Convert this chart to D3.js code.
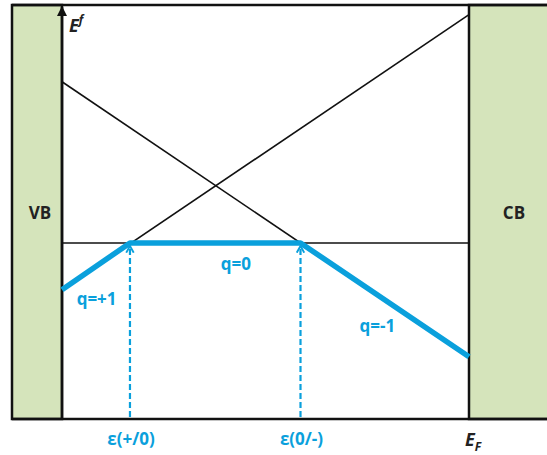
<!DOCTYPE html>
<html lang="en">
<head>
	<meta charset="utf-8">
	<title>Defect formation energy</title>
	<script src="https://d3js.org/d3.v7.min.js"></script>
	<style>
		body { margin: 0; background: #fff; }
		text { font-family: "Open Sans", "DejaVu Sans", sans-serif; font-weight: bold; }
	</style>
</head>
<body>
	<script>
	// Charge states and formation energy at the VBM (arbitrary units)
	var charges = [1, 0, -1];
	var chargeLabels = ["q=+1", "q=0", "q=-1"];
	var energyAtVBM = [-0.17, 0, 0.586];
	// Transition levels (Fermi level where lowest charge state changes)
	var transitionLevels = [0.167, 0.586];
	var transitionLabels = ["ε(+/0)", "ε(0/-)"];
	// Band gap (Fermi level range)
	var gap = [0, 1];

	var w = 547, h = 455;
	var svg = d3.select("body").append("svg")
		.attr("width", w)
		.attr("height", h);

	var x = d3.scaleLinear().domain(gap).range([62, 469]);
	var y = d3.scaleLinear().domain([-0.64, 0.865]).range([419, 5]);

	var blue = "#0aa0dc";
	var green = "#d5e4bb";

	function energy(i, ef) { return energyAtVBM[i] + charges[i] * ef; }

	// VB and CB bands
	svg.append("rect")
		.attr("x", 12).attr("y", y.range()[1])
		.attr("width", x(gap[0]) - 12).attr("height", y.range()[0] - y.range()[1])
		.attr("fill", green).attr("stroke", "#111").attr("stroke-width", 2.5);
	svg.append("rect")
		.attr("x", x(gap[1])).attr("y", y.range()[1])
		.attr("width", w - x(gap[1]) + 5).attr("height", y.range()[0] - y.range()[1])
		.attr("fill", green).attr("stroke", "#111").attr("stroke-width", 2.5);

	// frame top and bottom
	svg.append("line")
		.attr("x1", 12).attr("x2", w).attr("y1", y.range()[1]).attr("y2", y.range()[1])
		.attr("stroke", "#111").attr("stroke-width", 2.5);
	svg.append("line")
		.attr("x1", 12).attr("x2", w).attr("y1", y.range()[0]).attr("y2", y.range()[0])
		.attr("stroke", "#111").attr("stroke-width", 2.5);

	// arrow markers
	var defs = svg.append("defs");
	defs.append("marker")
		.attr("id", "blackArrow").attr("viewBox", "0 0 10 10")
		.attr("refX", 9).attr("refY", 5)
		.attr("markerWidth", 4).attr("markerHeight", 4)
		.attr("orient", "auto")
		.append("path").attr("d", "M0,0L10,5L0,10Z").attr("fill", "#111");
	defs.append("marker")
		.attr("id", "blueArrow").attr("viewBox", "0 0 12 12")
		.attr("refX", 10).attr("refY", 6)
		.attr("markerWidth", 9).attr("markerHeight", 10)
		.attr("markerUnits", "userSpaceOnUse")
		.attr("orient", "auto")
		.append("path").attr("d", "M1,1L10,6L1,11").attr("fill", "none")
		.attr("stroke", blue).attr("stroke-width", 2.5);

	// energy axis
	svg.append("line")
		.attr("x1", x(0)).attr("x2", x(0))
		.attr("y1", y.range()[0]).attr("y2", y.range()[1] + 2)
		.attr("stroke", "#111").attr("stroke-width", 2.5)
		.attr("marker-end", "url(#blackArrow)");

	// full formation energy lines (thin black)
	charges.forEach(function(q, i) {
		svg.append("line")
			.attr("x1", x(gap[0])).attr("y1", y(energy(i, gap[0])))
			.attr("x2", x(gap[1])).attr("y2", y(energy(i, gap[1])))
			.attr("stroke", "#111").attr("stroke-width", 1.6);
	});

	// lowest energy envelope (thick blue)
	var bounds = [gap[0]].concat(transitionLevels, [gap[1]]);
	var envelope = [];
	charges.forEach(function(q, i) {
		envelope.push([bounds[i], energy(i, bounds[i])]);
	});
	envelope.push([gap[1], energy(charges.length - 1, gap[1])]);
	svg.append("path")
		.datum(envelope)
		.attr("d", d3.line().x(function(d) { return x(d[0]); }).y(function(d) { return y(d[1]); }))
		.attr("fill", "none").attr("stroke", blue).attr("stroke-width", 5.5)
		.attr("stroke-linejoin", "round");

	// dashed arrows for transition levels
	transitionLevels.forEach(function(t, i) {
		svg.append("line")
			.attr("x1", x(t)).attr("x2", x(t))
			.attr("y1", y.range()[0] - 2).attr("y2", y(energy(i + 1, t)) + 3)
			.attr("stroke", blue).attr("stroke-width", 2.2)
			.attr("stroke-dasharray", "6,3")
			.attr("marker-end", "url(#blueArrow)");
		svg.append("text")
			.attr("x", x(t) + 1).attr("y", 445)
			.attr("text-anchor", "middle")
			.attr("font-size", 17).attr("fill", blue)
			.text(transitionLabels[i]);
	});

	// charge labels
	var labelPos = [[0.085, -0.225], [0.427, -0.1], [0.775, -0.325]];
	chargeLabels.forEach(function(l, i) {
		svg.append("text")
			.attr("x", x(labelPos[i][0])).attr("y", y(labelPos[i][1]))
			.attr("text-anchor", "middle")
			.attr("font-size", 17).attr("fill", blue)
			.text(l);
	});

	// band labels
	svg.append("text").attr("x", 40).attr("y", 219).attr("text-anchor", "middle")
		.attr("font-size", 17).attr("fill", "#222").text("VB");
	svg.append("text").attr("x", 514).attr("y", 219).attr("text-anchor", "middle")
		.attr("font-size", 17).attr("fill", "#222").text("CB");

	// axis labels
	var ef = svg.append("text").attr("x", 69).attr("y", 32)
		.attr("font-size", 18).attr("font-style", "italic").attr("fill", "#222");
	ef.append("tspan").text("E");
	ef.append("tspan").attr("dy", -8).attr("font-size", 12).text("f");

	var eF = svg.append("text").attr("x", 465).attr("y", 446)
		.attr("font-size", 18).attr("font-style", "italic").attr("fill", "#222");
	eF.append("tspan").text("E");
	eF.append("tspan").attr("dy", 5).attr("font-size", 12).text("F");
	</script>
</body>
</html>
